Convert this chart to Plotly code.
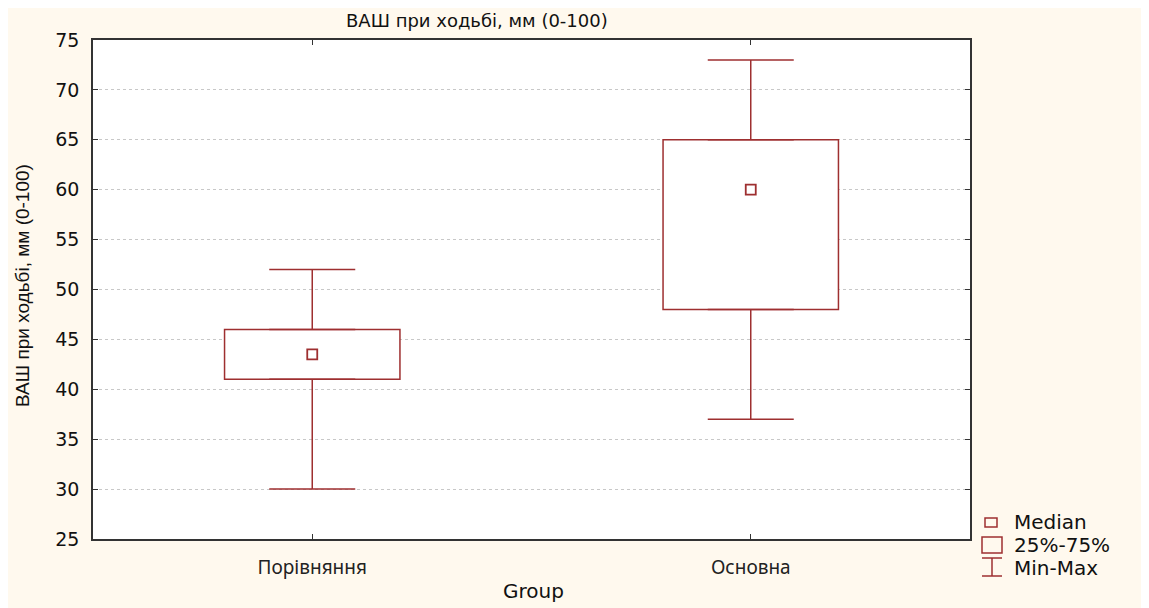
import plotly.graph_objects as go

# ---- data ----
groups = ["Порівняння", "Основна"]
mins = [30, 37]
q1 = [41, 48]
medians = [43.5, 60]
q3 = [46, 65]
maxs = [52, 73]

y_ticks = [25, 30, 35, 40, 45, 50, 55, 60, 65, 70, 75]

title_text = "ВАШ при ходьбі, мм (0-100)"
x_title = "Group"
legend_labels = ["Median", "25%-75%", "Min-Max"]

RED = "#9E2F30"
CREAM = "#FFF9EE"

# figure geometry (pixels)
W, H = 1137, 600
L, R, T, B = 85, 962, 32, 531
PW, PH = R - L, B - T


def px(x):
    return (x - L) / PW


def py(y):
    return (B - y) / PH


fig = go.Figure()

# interquartile boxes
fig.add_trace(go.Bar(
    x=groups, y=[b - a for a, b in zip(q1, q3)], base=q1, width=0.4,
    marker=dict(color="white", line=dict(color=RED, width=1.5)),
    showlegend=False, hoverinfo="skip",
))

# upper whiskers
fig.add_trace(go.Scatter(
    x=groups, y=q3, mode="markers", marker=dict(size=1, color="rgba(0,0,0,0)"),
    error_y=dict(type="data", symmetric=False,
                 array=[mx - b for mx, b in zip(maxs, q3)], arrayminus=[0, 0],
                 color=RED, thickness=1.5, width=43),
    showlegend=False, hoverinfo="skip",
))
# lower whiskers
fig.add_trace(go.Scatter(
    x=groups, y=q1, mode="markers", marker=dict(size=1, color="rgba(0,0,0,0)"),
    error_y=dict(type="data", symmetric=False,
                 array=[0, 0], arrayminus=[a - mn for a, mn in zip(q1, mins)],
                 color=RED, thickness=1.5, width=43),
    showlegend=False, hoverinfo="skip",
))

# medians
fig.add_trace(go.Scatter(
    x=groups, y=medians, mode="markers",
    marker=dict(symbol="square-open", size=10, color=RED, line=dict(width=1.8)),
    showlegend=False,
))

# custom legend (symbols as shapes, labels as annotations)
legend_shapes = [
    dict(type="rect", xref="paper", yref="paper", x0=px(977), x1=px(989), y0=py(519), y1=py(510),
         line=dict(color=RED, width=1.5), fillcolor="rgba(0,0,0,0)"),
    dict(type="rect", xref="paper", yref="paper", x0=px(974), x1=px(994), y0=py(545), y1=py(529),
         line=dict(color=RED, width=1.5), fillcolor="rgba(0,0,0,0)"),
    dict(type="line", xref="paper", yref="paper", x0=px(984), x1=px(984), y0=py(568), y1=py(550),
         line=dict(color=RED, width=1.5)),
    dict(type="line", xref="paper", yref="paper", x0=px(974), x1=px(994), y0=py(550), y1=py(550),
         line=dict(color=RED, width=1.5)),
    dict(type="line", xref="paper", yref="paper", x0=px(974), x1=px(994), y0=py(568), y1=py(568),
         line=dict(color=RED, width=1.5)),
]
legend_ys = [514, 537, 560]
legend_ann = [
    dict(text=t, xref="paper", yref="paper", x=px(1004), y=py(yy), xanchor="left",
         yanchor="middle", showarrow=False,
         font=dict(family="DejaVu Sans", size=20, color="#111111"))
    for t, yy in zip(legend_labels, legend_ys)
]

fig.update_layout(
    width=W, height=H,
    margin=dict(l=L, r=W - R, t=T, b=H - B, pad=0),
    paper_bgcolor=CREAM,
    plot_bgcolor="white",
    font=dict(family="DejaVu Sans", color="#111111"),
    showlegend=False,
    shapes=legend_shapes,
    annotations=[
        dict(text=title_text, xref="paper", yref="paper", x=px(469), y=py(0.5),
             xanchor="center", yanchor="top", showarrow=False, borderpad=0,
             font=dict(family="DejaVu Sans", size=18, color="#111111")),
        dict(text=x_title, xref="paper", yref="paper", x=px(525), y=py(583),
             xanchor="center", yanchor="middle", showarrow=False,
             font=dict(family="DejaVu Sans", size=20, color="#111111")),
        dict(text=title_text, xref="paper", yref="paper", x=px(14), y=py(278),
             xanchor="center", yanchor="middle", textangle=-90, showarrow=False,
             font=dict(family="Liberation Sans", size=19, color="#111111")),
    ] + legend_ann,
)

fig.update_xaxes(
    type="category", range=[-0.5, 1.5],
    showline=True, linecolor="#333333", linewidth=1.5, mirror="ticks",
    ticks="inside", ticklen=5, tickcolor="#333333", tickwidth=1,
    showgrid=False, ticklabelstandoff=10,
    tickfont=dict(family="Noto Sans", size=19, color="#222222"),
)
fig.update_yaxes(
    range=[25, 75], tickmode="array", tickvals=y_ticks,
    ticktext=[str(v) for v in y_ticks],
    showline=True, linecolor="#333333", linewidth=1.5, mirror="ticks",
    ticks="inside", ticklen=5, tickcolor="#333333", tickwidth=1,
    showgrid=True, gridcolor="#C8C8C8", griddash="dot", gridwidth=1,
    zeroline=False, ticklabelstandoff=8,
    tickfont=dict(family="DejaVu Sans", size=19, color="#111111"),
)

fig.write_html("out.html")
